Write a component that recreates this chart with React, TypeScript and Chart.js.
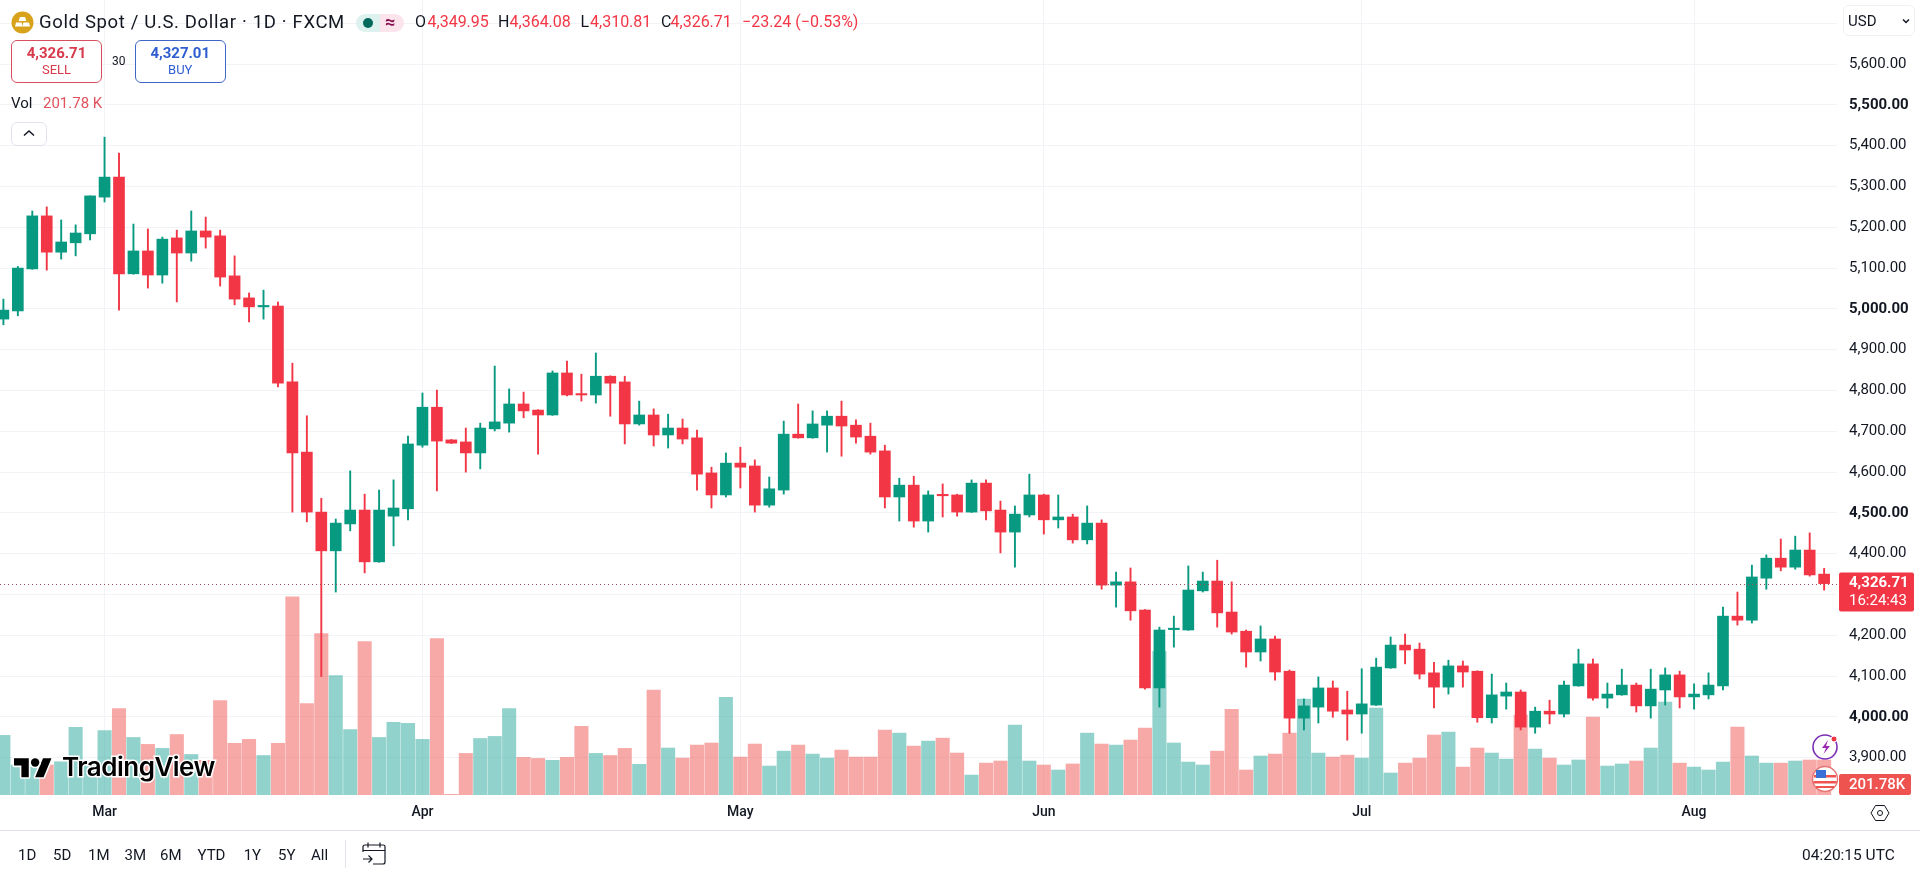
import React, { useEffect, useRef } from "react";
import Chart from "chart.js/auto";

const opens = [
  4975,4995,5098,5228,5139,5162,5184,5274,5323,5086,
  5142,5083,5174,5137,5191,5179,5081,5027,5005,5007,
  4821,4649,4502,4407,4473,4507,4380,4492,4510,4666,
  4759,4679,4674,4647,4706,4720,4767,4752,4740,4843,
  4791,4789,4835,4821,4718,4740,4691,4708,4684,4598,
  4544,4622,4615,4519,4556,4693,4684,4715,4737,4715,
  4688,4652,4539,4568,4480,4544,4544,4502,4573,4507,
  4453,4495,4544,4483,4490,4434,4475,4323,4331,4262,
  4071,4214,4213,4309,4333,4257,4210,4159,4191,4112,
  3997,4024,4071,4017,4007,4029,4120,4176,4166,4108,
  4073,4125,4112,3998,4051,4061,3975,4014,4007,4076,
  4130,4046,4054,4078,4027,4066,4103,4049,4054,4076,
  4247,4237,4340,4389,4367,4409,4349.95,
];
const highs = [
  5024,5104,5240,5250,5218,5206,5277,5421,5382,5208,
  5196,5176,5193,5240,5225,5193,5130,5039,5046,5017,
  4867,4738,4536,4485,4603,4546,4556,4581,4688,4794,
  4801,4680,4708,4720,4860,4804,4796,4753,4848,4872,
  4840,4892,4836,4835,4774,4755,4742,4730,4703,4612,
  4647,4661,4630,4588,4725,4767,4750,4750,4774,4728,
  4720,4666,4585,4590,4554,4571,4546,4581,4581,4529,
  4517,4595,4546,4544,4497,4517,4483,4355,4365,4263,
  4220,4247,4370,4355,4384,4331,4213,4223,4198,4115,
  4044,4098,4088,4063,4118,4144,4196,4203,4181,4134,
  4139,4137,4113,4105,4083,4066,4024,4041,4088,4166,
  4142,4083,4117,4083,4117,4120,4112,4081,4108,4269,
  4306,4372,4397,4436,4443,4451,4364.08,
];
const lows = [
  4961,4983,5097,5095,5122,5130,5169,5262,4997,5085,
  5051,5063,5017,5117,5149,5056,5010,4968,4975,4809,
  4502,4478,4099,4306,4456,4353,4379,4419,4483,4661,
  4554,4670,4600,4608,4701,4698,4733,4644,4739,4787,
  4774,4769,4737,4669,4715,4664,4659,4669,4556,4512,
  4539,4561,4502,4514,4546,4683,4683,4649,4639,4671,
  4644,4512,4480,4465,4453,4490,4492,4501,4483,4402,
  4367,4490,4448,4463,4426,4424,4313,4269,4237,4068,
  4024,4171,4212,4306,4220,4203,4122,4137,4090,3960,
  3968,3985,3999,3943,3960,4028,4119,4130,4093,4022,
  4056,4073,3987,3985,4019,3968,3960,3983,4000,4075,
  4041,4022,4053,4012,3997,4029,4022,4019,4044,4066,
  4225,4230,4313,4358,4362,4345,4310.81,
];
const closes = [
  4997,5100,5228,5139,5164,5186,5277,5323,5086,5142,
  5083,5171,5137,5191,5176,5078,5024,5005,5006,4818,
  4647,4502,4407,4475,4507,4380,4507,4512,4669,4759,
  4676,4671,4647,4708,4723,4767,4750,4740,4843,4789,
  4789,4835,4818,4718,4740,4691,4708,4681,4595,4544,
  4622,4612,4519,4559,4693,4684,4718,4737,4713,4686,
  4649,4539,4568,4480,4544,4542,4502,4573,4505,4453,
  4497,4544,4483,4490,4434,4475,4323,4331,4260,4071,
  4213,4215,4311,4333,4255,4208,4159,4191,4110,3997,
  4027,4071,4014,4007,4032,4122,4176,4164,4105,4073,
  4125,4110,3998,4054,4061,3975,4014,4007,4078,4130,
  4046,4056,4078,4027,4068,4103,4049,4056,4078,4247,
  4237,4343,4389,4367,4409,4348,4326.71,
];
const volumes = [
  344,173,163,173,192,390,192,372,499,332,
  292,269,349,234,200,545,298,321,228,298,
  1144,528,931,689,378,885,332,419,413,321,
  902,4,240,326,338,499,217,211,200,217,
  396,240,228,269,177,605,271,213,288,300,
  564,219,294,167,253,288,236,213,259,219,
  219,374,357,282,311,328,242,115,184,196,
  403,196,173,144,179,357,294,288,317,386,
  829,300,190,173,253,495,144,225,236,357,
  553,242,219,230,213,501,127,184,213,346,
  363,161,271,242,207,461,265,213,173,202,
  449,167,179,196,271,536,184,161,144,190,
  392,225,184,184,196,202,201.78,
];
const monthIndex = [7, 29, 51, 72, 94, 117];
const monthLabels = ["Mar", "Apr", "May", "Jun", "Jul", "Aug"];
const priceTicks = [3900, 4000, 4100, 4200, 4300, 4400, 4500, 4600, 4700, 4800, 4900, 5000, 5100, 5200, 5300, 5400, 5500, 5600, 5700];
const rangeButtons = ["1D", "5D", "1M", "3M", "6M", "YTD", "1Y", "5Y", "All"];
const rangeLefts = [18, 53, 88, 124.5, 160, 197.5, 243.7, 278, 311];

const UP = "#089981";
const DOWN = "#F23645";
const UP_VOL = "rgba(38,166,154,0.5)";
const DOWN_VOL = "rgba(239,83,80,0.5)";
const FONT = "Roboto, sans-serif";
const INK = "#131722";

const isUp = (i: number) => closes[i] >= opens[i];

const txt = (left: number, centerY: number, size: number, color: string, weight = 400): React.CSSProperties => ({
  position: "absolute",
  left,
  top: centerY - size,
  height: size * 2,
  lineHeight: `${size * 2}px`,
  fontSize: size,
  color,
  fontWeight: weight,
  fontFamily: FONT,
  whiteSpace: "nowrap",
});

const box = (left: number, top: number, w: number, h: number, border: string): React.CSSProperties => ({
  position: "absolute",
  left,
  top,
  width: w,
  height: h,
  boxSizing: "border-box",
  border: `1px solid ${border}`,
  borderRadius: 6,
  background: "#fff",
});

const fullHeightPlugin = {
  id: "fullHeight",
  afterLayout(chart: any) {
    const area = chart.chartArea;
    area.top = 0;
    area.height = area.bottom;
    for (const id of ["y", "vol"]) {
      const s = chart.scales[id];
      s.top = 0;
      s.height = area.bottom;
      s.bottom = area.bottom;
      s.configure();
    }
  },
};

const lastPricePlugin = {
  id: "lastPrice",
  afterDatasetsDraw(chart: any) {
    const { ctx, scales, chartArea } = chart;
    const last = closes.length - 1;
    const y = scales.y.getPixelForValue(closes[last]);
    ctx.save();
    ctx.strokeStyle = "#a04a56";
    ctx.lineWidth = 1;
    ctx.setLineDash([1, 3]);
    ctx.beginPath();
    ctx.moveTo(chartArea.left, Math.round(y) + 0.5);
    ctx.lineTo(chartArea.right, Math.round(y) + 0.5);
    ctx.stroke();
    ctx.setLineDash([]);
    ctx.restore();
  },
  afterDraw(chart: any) {
    const { ctx, scales } = chart;
    const last = closes.length - 1;
    const y = scales.y.getPixelForValue(closes[last]);
    ctx.save();
    ctx.fillStyle = DOWN;
    ctx.beginPath();
    ctx.roundRect(1839, y - 11, 75, 39, 2);
    ctx.fill();
    ctx.fillStyle = "#fff";
    ctx.textBaseline = "middle";
    ctx.textAlign = "left";
    ctx.font = `bold 15px ${FONT}`;
    ctx.fillText(closes[last].toLocaleString("en-US", { minimumFractionDigits: 2 }), 1849, y);
    ctx.font = `15px ${FONT}`;
    ctx.fillText("16:24:43", 1849, y + 18);
    const vb = scales.vol.getPixelForValue(0);
    ctx.fillStyle = "#EF5350";
    ctx.beginPath();
    ctx.roundRect(1839, vb - 21, 72, 21, 2);
    ctx.fill();
    ctx.fillStyle = "#fff";
    ctx.font = `500 15px ${FONT}`;
    ctx.fillText(`${volumes[last]}K`, 1849, vb - 10);
    ctx.restore();
  },
};

export default function App() {
  const ref = useRef<HTMLCanvasElement>(null);
  useEffect(() => {
    const xs = opens.map((_, i) => i);
    const chart = new Chart(ref.current as HTMLCanvasElement, {
      type: "bar",
      data: {
        datasets: [
          {
            label: "Volume",
            yAxisID: "vol",
            order: 3,
            grouped: false,
            barThickness: 13.4,
            data: xs.map((i) => ({ x: i, y: volumes[i] })),
            backgroundColor: xs.map((i) => (isUp(i) ? UP_VOL : DOWN_VOL)),
          },
          {
            label: "Wick",
            yAxisID: "y",
            order: 2,
            grouped: false,
            barThickness: 1.25,
            data: xs.map((i) => ({ x: i, y: [lows[i], highs[i]] })),
            backgroundColor: xs.map((i) => (isUp(i) ? UP : DOWN)),
          },
          {
            label: "Body",
            yAxisID: "y",
            order: 1,
            grouped: false,
            barThickness: 11,
            minBarLength: 1.4,
            data: xs.map((i) => ({ x: i, y: [opens[i], closes[i]] })),
            backgroundColor: xs.map((i) => (isUp(i) ? UP : DOWN)),
          },
        ] as any,
      },
      options: {
        animation: false,
        responsive: false,
        devicePixelRatio: 1,
        layout: { padding: 0, autoPadding: false },
        plugins: { legend: { display: false }, tooltip: { enabled: false } },
        scales: {
          x: {
            type: "linear",
            bounds: "data",
            position: "bottom",
            min: -0.235,
            max: 126.89,
            offset: false,
            border: { display: false },
            grid: { offset: false, color: "#f1f3f6", drawTicks: false },
            afterBuildTicks: (s: any) => {
              s.ticks = monthIndex.map((value) => ({ value }));
            },
            afterFit: (s: any) => {
              s.height = 77;
            },
            ticks: {
              padding: 9,
              autoSkip: false,
              maxRotation: 0,
              color: INK,
              font: { family: FONT, size: 14, weight: "500" },
              callback: (v: any) => monthLabels[monthIndex.indexOf(Number(v))] ?? "",
            },
          },
          y: {
            type: "linear",
            bounds: "data",
            position: "right",
            min: 3808.6,
            max: 5757.1,
            border: { display: false },
            grid: { color: "#f1f3f6", drawTicks: false },
            afterBuildTicks: (s: any) => {
              s.ticks = priceTicks.map((value) => ({ value }));
            },
            afterFit: (s: any) => {
              s.width = 83;
            },
            ticks: {
              autoSkip: false,
              padding: 12,
              crossAlign: "near",
              color: INK,
              font: (c: any) => ({
                family: FONT,
                size: 15,
                weight: c.tick && c.tick.value % 500 === 0 ? "bold" : "normal",
              }),
              callback: (v: any) =>
                Number(v) === 5700 ? "" : Number(v).toLocaleString("en-US", { minimumFractionDigits: 2 }),
            },
          },
          vol: { type: "linear", bounds: "data", display: false, min: 0, max: 4587 },
        },
      } as any,
      plugins: [fullHeightPlugin, lastPricePlugin],
    });
    return () => chart.destroy();
  }, []);

  return (
    <div style={{ position: "fixed", left: 0, top: 0, width: 1920, height: 872, background: "#fff", overflow: "hidden" }}>
      <canvas ref={ref} width={1920} height={872} style={{ position: "absolute", left: 0, top: 0, width: 1920, height: 872 }} />

      {/* header */}
      <svg style={{ position: "absolute", left: 11, top: 11 }} width={23} height={23} viewBox="0 0 23 23">
        <circle cx={11.5} cy={11.5} r={11} fill="#D9A21B" />
        <path d="M9 6h5l1.4 4H7.6zM5 11.5h5.6l1 4H4zM12.4 11.5H18l1 4h-7.6z" fill="#fff" />
      </svg>
      <div style={{ ...txt(39, 22, 18.5, INK), letterSpacing: 0.65 }}>Gold Spot / U.S. Dollar · 1D · FXCM</div>
      <div style={{ position: "absolute", left: 356, top: 14, width: 24, height: 18, background: "#DDF1EE", borderRadius: "9px 0 0 9px" }} />
      <div style={{ position: "absolute", left: 380, top: 14, width: 24, height: 18, background: "#FCE4EC", borderRadius: "0 9px 9px 0" }} />
      <div style={{ position: "absolute", left: 363, top: 18, width: 10, height: 10, background: "#00695C", borderRadius: 5 }} />
      <div style={txt(385, 22, 18, "#880E4F", 700)}>≈</div>
      <div style={txt(415, 22, 16, INK)}>O</div>
      <div style={txt(427.5, 22, 16, DOWN)}>4,349.95</div>
      <div style={txt(498, 22, 16, INK)}>H</div>
      <div style={txt(509.5, 22, 16, DOWN)}>4,364.08</div>
      <div style={txt(580.5, 22, 16, INK)}>L</div>
      <div style={txt(590, 22, 16, DOWN)}>4,310.81</div>
      <div style={txt(661, 22, 16, INK)}>C</div>
      <div style={txt(670.5, 22, 16, DOWN)}>4,326.71</div>
      <div style={txt(742, 22, 16, DOWN)}>−23.24 (−0.53%)</div>

      {/* sell / buy */}
      <div style={box(11, 40, 91, 43, "#D8505F")} />
      <div style={{ ...txt(11, 53, 15, "#D8394B", 700), width: 91, textAlign: "center" }}>4,326.71</div>
      <div style={{ ...txt(11, 70, 13, "#D8394B"), width: 91, textAlign: "center" }}>SELL</div>
      <div style={txt(112, 61, 12, INK)}>30</div>
      <div style={box(135, 40, 90.5, 43, "#3F66C4")} />
      <div style={{ ...txt(135, 53, 15, "#2F5ED0", 700), width: 90.5, textAlign: "center" }}>4,327.01</div>
      <div style={{ ...txt(135, 70, 13, "#2F5ED0"), width: 90.5, textAlign: "center" }}>BUY</div>

      {/* volume legend */}
      <div style={txt(11, 103, 15, INK)}>Vol</div>
      <div style={txt(43, 103, 15, "#E0525C")}>201.78 K</div>
      <div style={box(11, 122, 36, 24, "#E0E3EB")} />
      <svg style={{ position: "absolute", left: 22, top: 128 }} width={14} height={10} viewBox="0 0 14 10">
        <path d="M2 7.5L7 3l5 4.5" fill="none" stroke={INK} strokeWidth={1.5} />
      </svg>

      {/* currency */}
      <div style={box(1843, 5, 72, 31, "#EEF0F4")} />
      <div style={txt(1848, 21, 15, INK)}>USD</div>
      <svg style={{ position: "absolute", left: 1901, top: 17 }} width={10} height={8} viewBox="0 0 10 8">
        <path d="M2 2.5L5 5.5l3-3" fill="none" stroke={INK} strokeWidth={1.5} />
      </svg>

      {/* watermark logo */}
      <svg style={{ position: "absolute", left: 14, top: 755 }} width={38} height={24} viewBox="0 0 36 22.7" overflow="visible">
        <g stroke="#fff" strokeWidth={3} paintOrder="stroke" strokeLinejoin="round" fill="#000">
          <path d="M14 21H7V10H0V3h14v18zM28 21h-8l7.5-18h8L28 21z" />
          <circle cx={20} cy={7} r={4} />
        </g>
      </svg>
      <div
        style={{
          ...txt(62, 767, 26, "#000", 600),
          fontFamily: "Inter, sans-serif",
          WebkitTextStroke: "3px #fff",
          paintOrder: "stroke fill",
          letterSpacing: -0.5,
        }}
      >
        TradingView
      </div>

      {/* right side badges */}
      <svg style={{ position: "absolute", left: 1811, top: 732 }} width={30} height={62} viewBox="0 0 30 62">
        <circle cx={14} cy={15} r={12} fill="#fff" stroke="#7B2FB5" strokeWidth={1.6} />
        <path d="M17 8l-6 8h4l-2.5 6 6.5-8h-4z" fill="#9C27B0" />
        <circle cx={23} cy={7} r={3} fill="#F23645" stroke="#fff" />
        <circle cx={14} cy={47} r={12.5} fill="#fff" stroke="#E57373" strokeWidth={1.4} />
        <path d="M3 43h22v2.5H3zM2.5 49h23v2.5h-23zM5 54h18v2H5z" fill="#EF5350" />
        <rect x={5} y={38} width={10} height={8} fill="#3B6FD8" />
      </svg>

      {/* axis settings */}
      <svg style={{ position: "absolute", left: 1870, top: 803 }} width={20} height={20} viewBox="0 0 20 20">
        <path d="M5.5 2.5h9L19 10l-4.5 7.5h-9L1 10z" fill="none" stroke={INK} strokeWidth={1} />
        <circle cx={10} cy={10} r={2.5} fill="none" stroke={INK} strokeWidth={1} />
      </svg>

      {/* bottom bar */}
      <div style={{ position: "absolute", left: 0, top: 830, width: 1920, height: 1, background: "#E0E3EB" }} />
      {rangeButtons.map((b, i) => (
        <div key={b} style={txt(rangeLefts[i], 855, 15, INK)}>
          {b}
        </div>
      ))}
      <div style={{ position: "absolute", left: 345, top: 840, width: 1, height: 28, background: "#E0E3EB" }} />
      <svg style={{ position: "absolute", left: 362, top: 842 }} width={24} height={24} viewBox="0 0 24 24">
        <path d="M1 10V4.5C1 3.5 2 3 3 3h18c1 0 2 .5 2 1.5V20c0 1-1 2-2 2H11M1 8.5h22M6 0.5v5M18 0.5v5M1 17h9M6.5 13.5L10 17l-3.5 3.5" fill="none" stroke={INK} strokeWidth={1.2} />
      </svg>
      <div style={txt(1802, 855, 15.5, INK)}>04:20:15 UTC</div>
    </div>
  );
}
